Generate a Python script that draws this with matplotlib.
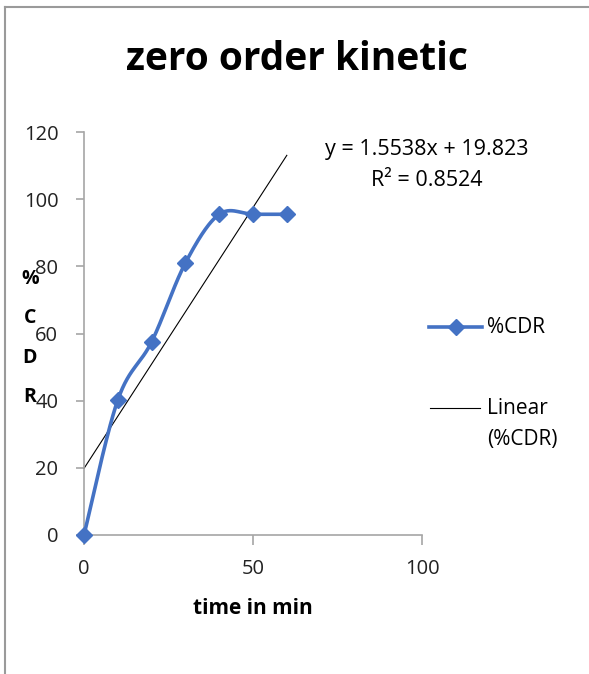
import matplotlib
matplotlib.use("Agg")
import matplotlib.pyplot as plt
import numpy as np
from matplotlib.lines import Line2D

# data
time_min = [0, 10, 20, 30, 40, 50, 60]
cdr = [0, 40.2, 57.5, 81.0, 95.5, 95.5, 95.5]
slope = 1.5538
intercept = 19.823
r2 = 0.8524
x_ticks = [0, 50, 100]
y_ticks = [0, 20, 40, 60, 80, 100, 120]

blue = '#4472C4'
grey = '#A6A6A6'
font = ['Open Sans', 'DejaVu Sans']
W, H = 589, 674


def smooth(xs, ys, n=30):
    # excel like smoothed line (catmull-rom as bezier)
    p = np.column_stack([xs, ys]).astype(float)
    out = []
    for i in range(len(p) - 1):
        p0 = p[i - 1] if i > 0 else p[i]
        p1 = p[i]
        p2 = p[i + 1]
        p3 = p[i + 2] if i + 2 < len(p) else p[i + 1]
        c1 = p1 + (p2 - p0) / 6
        c2 = p2 - (p3 - p1) / 6
        t = np.linspace(0, 1, n)[:, None]
        seg = ((1 - t) ** 3) * p1 + 3 * ((1 - t) ** 2) * t * c1 + 3 * (1 - t) * t ** 2 * c2 + t ** 3 * p2
        out.append(seg if i == 0 else seg[1:])
    out = np.vstack(out)
    return out[:, 0], out[:, 1]


fig = plt.figure(figsize=(W / 100, H / 100), dpi=100)
ax = fig.add_axes([84 / W, 1 - 535 / H, (422 - 84) / W, (535 - 132) / H])

sx, sy = smooth(time_min, cdr)
ax.plot(sx, sy, color=blue, lw=2.6, solid_capstyle='round', zorder=3, clip_on=False)
ax.plot(time_min, cdr, ls='none', marker='D', ms=8.5, color=blue, zorder=4, clip_on=False)

tx = np.array([0, 60])
ax.plot(tx, slope * tx + intercept, color='black', lw=0.8, zorder=2, clip_on=False)

ax.set_xlim(0, 100)
ax.set_ylim(0, 120)
ax.set_xticks(x_ticks)
ax.set_yticks(y_ticks)
for s in ['top', 'right']:
    ax.spines[s].set_visible(False)
for s in ['left', 'bottom']:
    ax.spines[s].set_color(grey)
    ax.spines[s].set_linewidth(1.2)
ax.tick_params(axis='y', direction='out', length=6, width=1.2, color=grey, pad=12.5)
ax.tick_params(axis='x', direction='out', length=7, width=1.2, color=grey, pad=10)
for lab in ax.get_xticklabels() + ax.get_yticklabels():
    lab.set_fontfamily(font)
    lab.set_fontsize(14.5)
    lab.set_color('#222222')

fig.text(297 / W, 1 - 60 / H, 'zero order kinetic', ha='center', va='center',
         fontsize=28, fontweight='bold', family=font)
fig.text(253 / W, 1 - 608 / H, 'time in min', ha='center', va='center',
         fontsize=15, fontweight='bold', family=font)
for i, ch in enumerate(['%', 'C', 'D', 'R']):
    fig.text(30 / W, 1 - (279 + i * 39.3) / H, ch, ha='center', va='center',
             fontsize=14, fontweight='bold', family=font)

fig.text(427 / W, 1 - 149 / H, 'y = %.4fx + %.3f' % (slope, intercept), ha='center', va='center',
         fontsize=15.5, family=font)
fig.text(427 / W, 1 - 181 / H, 'R² = %.4f' % r2, ha='center', va='center',
         fontsize=15.5, family=font)

# legend
fig.add_artist(Line2D([429 / W, 482 / W], [1 - 327 / H] * 2, color=blue, lw=2.6))
fig.add_artist(Line2D([455.5 / W], [1 - 327 / H], color=blue, marker='D', ms=8.5))
fig.text(487 / W, 1 - 327 / H, '%CDR', ha='left', va='center', fontsize=15, family=font)
fig.add_artist(Line2D([430 / W, 480 / W], [1 - 408 / H] * 2, color='black', lw=0.8))
fig.text(487 / W, 1 - 408 / H, 'Linear', ha='left', va='center', fontsize=15, family=font)
fig.text(487 / W, 1 - 440 / H, '(%CDR)', ha='left', va='center', fontsize=15, family=font)

# chart border
fig.add_artist(Line2D([5 / W, 5 / W], [0, 1 - 7 / H], color='#9a9a9a', lw=1.5))
fig.add_artist(Line2D([5 / W, 1], [1 - 7 / H, 1 - 7 / H], color='#9a9a9a', lw=1.5))

fig.savefig('out.png', dpi=100)
